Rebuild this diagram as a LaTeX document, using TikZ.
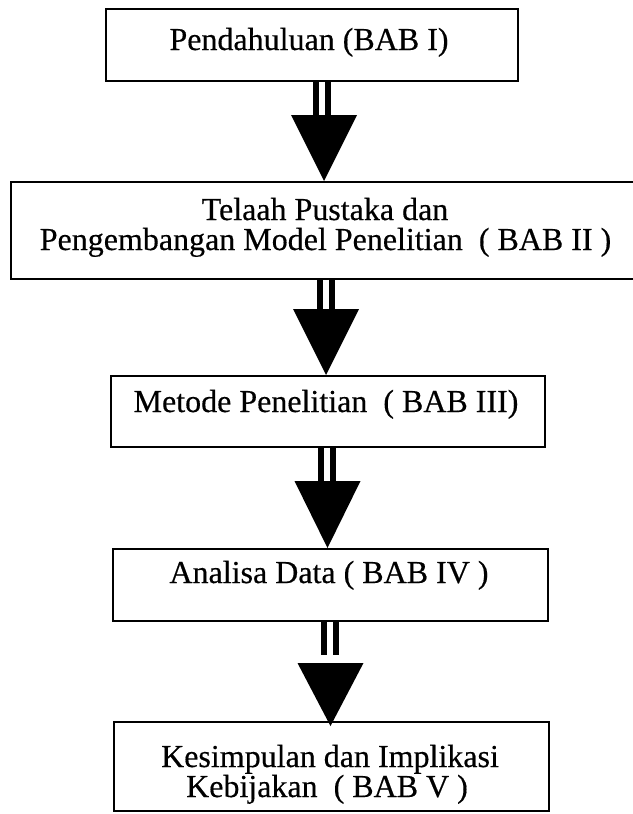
\documentclass[tikz,border=0pt]{standalone}
\usepackage{fontspec}
\setmainfont{Liberation Serif}[UprightFeatures={FakeBold=0.4}]
\begin{document}
\begin{tikzpicture}[x=1pt,y=-1pt,
  box/.style={draw=black, line width=1.8pt, fill=white, inner sep=0pt, anchor=north west},
  txt/.style={inner sep=0pt, anchor=base, font=\fontsize{32pt}{30pt}\selectfont},
  shaft/.style={draw=black, line width=6pt, double=white, double distance=6pt},
  head/.style={fill=black}]
\useasboundingbox[fill=white] (0,0) rectangle (632,814);

% boxes
\node[box, minimum width=412pt, minimum height=72pt] (b1) at (105,8) {};
\node[box, minimum width=640pt, minimum height=97pt] (b2) at (10,181) {};
\node[box, minimum width=434pt, minimum height=71pt] (b3) at (110,375) {};
\node[box, minimum width=435pt, minimum height=72pt] (b4) at (112,548) {};
\node[box, minimum width=435pt, minimum height=89pt] (b5) at (113,721) {};

% texts
\node[txt] (t1) at (309,50) {Pendahuluan (BAB I)};
\node[txt] (t2a) at (325,220) {Telaah Pustaka dan};
\node[txt] (t2b) at (325.5,250) {Pengembangan Model Penelitian\ \ ( BAB II )};
\node[txt] (t3) at (326,412) {Metode Penelitian\ \ ( BAB III)};
\node[txt] (t4) at (329,583) {Analisa Data ( BAB IV )};
\node[txt] (t5a) at (330,767) {Kesimpulan dan Implikasi};
\node[txt] (t5b) at (327,797) {Kebijakan\ \ ( BAB V )};

% arrows
\coordinate (a1) at (b1.south -| 322,0);
\draw[shaft] (a1) -- ++(0,33) coordinate (h1);
\fill[head] (b2.north -| 324,0) -- ++(-33,-66) -- ++(66,0) -- cycle;

\coordinate (a2) at (b2.south -| 326,0);
\draw[shaft] (a2) -- ++(0,31) coordinate (h2);
\fill[head] (b3.north -| 326,0) -- ++(-33,-66) -- ++(66,0) -- cycle;

\coordinate (a3) at (b3.south -| 327,0);
\draw[shaft] (a3) -- ++(0,35) coordinate (h3);
\fill[head] (b4.north -| 327.5,0) -- ++(-33,-67) -- ++(66,0) -- cycle;

\coordinate (a4) at (b4.south -| 330,0);
\draw[shaft] (a4) -- ++(0,33) coordinate (h4);
\fill[head] ([yshift=-5pt]b5.north -| 330.5,0) -- ++(-33,-63) -- ++(66,0) -- cycle;
\end{tikzpicture}
\end{document}
